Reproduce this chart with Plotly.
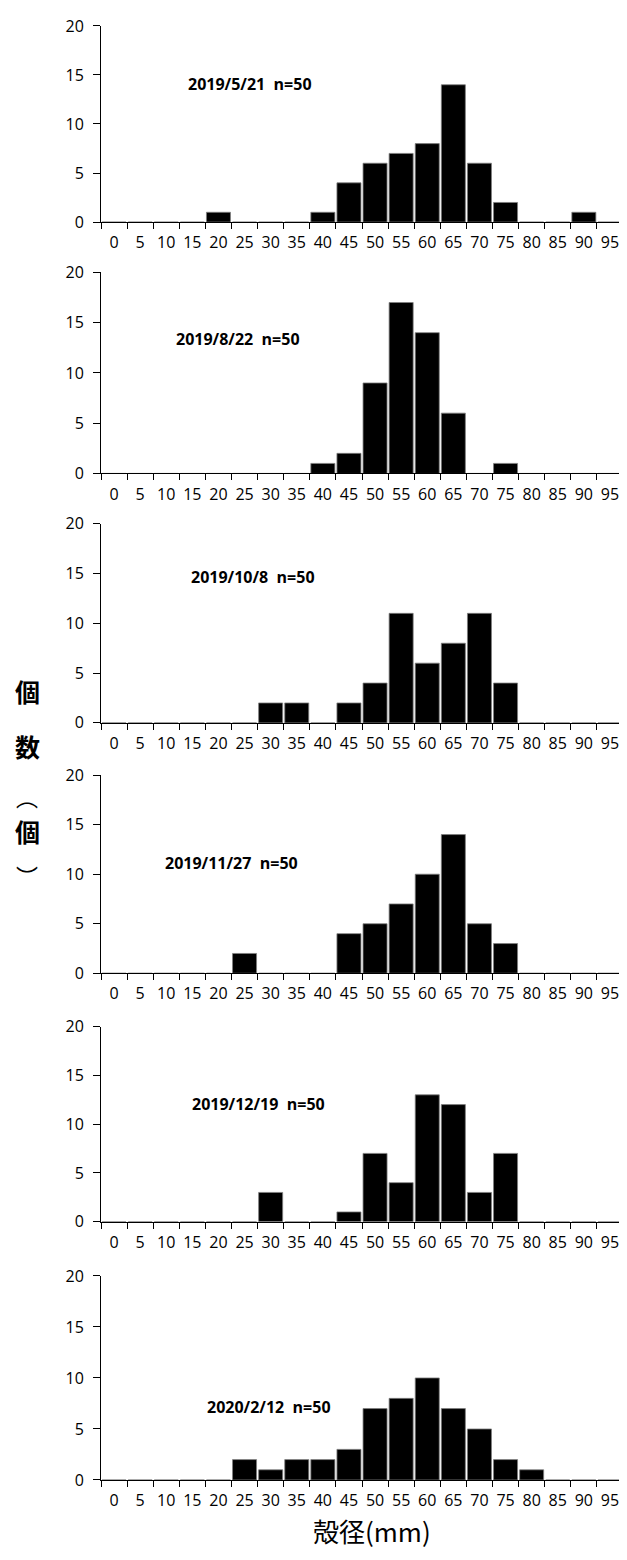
import plotly.graph_objects as go

# page is 627x1560; the html body has an 8px margin, so the figure is shifted by 8px
OFF = 8
W, H = 627 - OFF, 1560 - OFF

sizes = [str(v) for v in range(0, 100, 5)]

dates = ["2019/5/21", "2019/8/22", "2019/10/8", "2019/11/27", "2019/12/19", "2020/2/12"]
n_labels = ["n=50"] * 6

c_20190521 = [0, 0, 0, 0, 1, 0, 0, 0, 1, 4, 6, 7, 8, 14, 6, 2, 0, 0, 1, 0]
c_20190822 = [0, 0, 0, 0, 0, 0, 0, 0, 1, 2, 9, 17, 14, 6, 0, 1, 0, 0, 0, 0]
c_20191008 = [0, 0, 0, 0, 0, 0, 2, 2, 0, 2, 4, 11, 6, 8, 11, 4, 0, 0, 0, 0]
c_20191127 = [0, 0, 0, 0, 0, 2, 0, 0, 0, 4, 5, 7, 10, 14, 5, 3, 0, 0, 0, 0]
c_20191219 = [0, 0, 0, 0, 0, 0, 3, 0, 0, 1, 7, 4, 13, 12, 3, 7, 0, 0, 0, 0]
c_20200212 = [0, 0, 0, 0, 0, 2, 1, 2, 2, 3, 7, 8, 10, 7, 5, 2, 1, 0, 0, 0]
series = [c_20190521, c_20190822, c_20191008, c_20191127, c_20191219, c_20200212]

y_ticks = [0, 5, 10, 15, 20]
y_title_chars = ["個", "数", "︵", "個", "︶"]
x_title = "殻径(mm)"

# layout in page pixels
panel_px = [(15, 214), (265, 469), (520, 722), (775, 976), (1030, 1228), (1283, 1490)]
x_px = (101, 623)
label_px = [(186, 74), (174, 333), (189, 574), (163, 864), (190, 1109), (205, 1416)]
ytitle_px = [690, 745, 796, 832, 876]

def px_x(p):
    return (p - OFF) / W

def px_y(p):
    return 1 - (p - OFF) / H

fig = go.Figure()
layout = dict(
    width=W, height=H,
    margin=dict(l=0, r=0, t=0, b=0),
    paper_bgcolor="white", plot_bgcolor="white",
    showlegend=False, bargap=0.08,
    font=dict(family="Open Sans, Noto Sans", size=16, color="black"),
)
annotations = []
for i, vals in enumerate(series):
    k = "" if i == 0 else str(i + 1)
    fig.add_trace(go.Bar(
        x=sizes, y=vals, xaxis="x" + k, yaxis="y" + k,
        marker=dict(color="black", line=dict(color="#7f7f7f", width=0.8)),
        hoverinfo="skip",
    ))
    top, bot = panel_px[i]
    layout["xaxis" + k] = dict(
        domain=[px_x(x_px[0]), min(1.0, px_x(x_px[1]))], anchor="y" + k,
        type="category", categoryorder="array", categoryarray=sizes,
        tickson="boundaries", ticks="outside", ticklen=6, tickcolor="black", tickwidth=1,
        showline=True, linecolor="black", linewidth=1,
        showgrid=False, zeroline=False, tickangle=0,
        ticklabelstandoff=6,
        tickfont=dict(size=16, color="black"),
    )
    layout["yaxis" + k] = dict(
        domain=[px_y(bot), px_y(top)], anchor="x" + k,
        range=[0, 20], tickvals=y_ticks,
        ticks="outside", ticklen=7, tickcolor="black", tickwidth=1,
        showline=True, linecolor="black", linewidth=1,
        showgrid=False, zeroline=False,
        ticklabelstandoff=6,
        tickfont=dict(size=16, color="black"),
    )
    lx, ly = label_px[i]
    annotations.append(dict(
        x=px_x(lx), y=px_y(ly), xref="paper", yref="paper",
        xanchor="left", yanchor="middle", showarrow=False,
        text="<b>" + dates[i] + "  " + n_labels[i] + "</b>",
        font=dict(size=16, color="black", family="Open Sans"),
    ))

for ch, yp in zip(y_title_chars, ytitle_px):
    is_paren = ch in ("︵", "︶")
    annotations.append(dict(
        x=px_x(27), y=px_y(yp), xref="paper", yref="paper",
        xanchor="center", yanchor="middle", showarrow=False,
        text=ch if is_paren else "<b>" + ch + "</b>",
        font=dict(size=22 if is_paren else 25, color="black", family="Noto Sans CJK JP"),
    ))

annotations.append(dict(
    x=px_x(372), y=px_y(1541), xref="paper", yref="paper",
    xanchor="center", yanchor="middle", showarrow=False,
    text=x_title,
    font=dict(size=26, color="black", family="Noto Sans CJK JP"),
))
layout["annotations"] = annotations
fig.update_layout(**layout)
fig.write_html("out.html")
